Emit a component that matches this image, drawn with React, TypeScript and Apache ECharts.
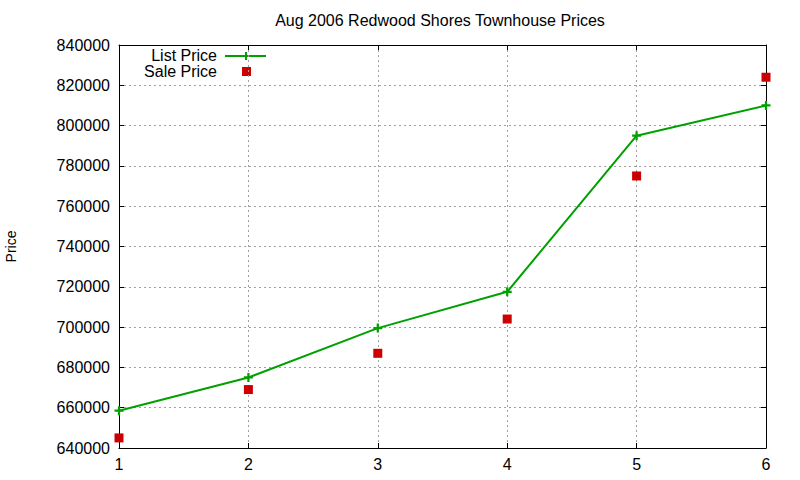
import { useEffect, useRef } from 'react';
import * as echarts from 'echarts';

const xValues = [1, 2, 3, 4, 5, 6];
const listPrice = [658500, 675000, 699500, 717500, 795000, 810000];
const salePrice = [645000, 669000, 687000, 704000, 775000, 824000];
const seriesNames = ['List Price', 'Sale Price'];
const yAxisName = 'Price';
const chartTitle = 'Aug 2006 Redwood Shores Townhouse Prices';

const FONT = "'Liberation Sans', Arial, sans-serif";
const GREEN = '#00a000';
const RED = '#cc0000';
const PLUS = 'path://M-1,-4 L1,-4 L1,-1 L4,-1 L4,1 L1,1 L1,4 L-1,4 L-1,1 L-4,1 L-4,-1 L-1,-1 Z';

export default function App() {
  const chartRef = useRef<HTMLDivElement>(null);

  useEffect(() => {
    if (!chartRef.current) return;
    const chart = echarts.init(chartRef.current, null, { renderer: 'svg' });

    const frameAxis = {
      type: 'value' as const,
      axisLine: { show: true, lineStyle: { color: '#000', width: 1 } },
      axisTick: { show: true, inside: true, length: 5, lineStyle: { color: '#000' } },
      splitLine: { show: false },
      axisLabel: { show: false },
    };

    const option: echarts.EChartsOption = {
      animation: false,
      backgroundColor: '#fff',
      textStyle: { fontFamily: FONT },
      grid: { left: 119, right: 34, top: 45, bottom: 32, outerBoundsMode: 'none' } as any,
      xAxis: [
        {
          ...frameAxis,
          position: 'bottom',
          min: 1,
          max: 6,
          interval: 1,
          axisLabel: { show: true, color: '#000', fontSize: 16, fontFamily: FONT, margin: 8 },
          splitLine: { show: true, lineStyle: { color: '#a0a0a0', type: [2, 3], width: 1 } },
        },
        { ...frameAxis, position: 'top', min: 1, max: 6, interval: 1 },
      ],
      yAxis: [
        {
          ...frameAxis,
          position: 'left',
          min: 640000,
          max: 840000,
          interval: 20000,
          name: yAxisName,
          nameLocation: 'middle',
          nameRotate: 90,
          nameGap: 101,
          nameTextStyle: { color: '#000', fontSize: 14, fontFamily: FONT },
          axisLabel: {
            show: true,
            color: '#000',
            fontSize: 16,
            fontFamily: FONT,
            margin: 9,
            formatter: (v: number) => String(v),
          },
          splitLine: { show: true, lineStyle: { color: '#a0a0a0', type: [2, 3], width: 1 } },
        },
        { ...frameAxis, position: 'right', min: 640000, max: 840000, interval: 20000 },
      ],
      series: [
        {
          name: seriesNames[0],
          type: 'line',
          xAxisIndex: 0,
          yAxisIndex: 0,
          data: xValues.map((x, i) => [x, listPrice[i]]),
          symbol: PLUS,
          symbolSize: 9,
          showAllSymbol: true,
          clip: false,
          lineStyle: { color: GREEN, width: 2 },
          itemStyle: { color: GREEN, opacity: 1 },
        },
        {
          name: seriesNames[1],
          type: 'scatter',
          xAxisIndex: 0,
          yAxisIndex: 0,
          data: xValues.map((x, i) => [x, salePrice[i]]),
          symbol: 'rect',
          symbolSize: 9,
          clip: false,
          itemStyle: { color: RED, opacity: 1 },
        },
      ],
      graphic: [
        {
          type: 'text',
          x: 440,
          y: 20,
          style: {
            text: chartTitle,
            fontSize: 16,
            fontFamily: FONT,
            fill: '#000',
            align: 'center',
            verticalAlign: 'middle',
          },
        },
        {
          type: 'text',
          x: 217,
          y: 55,
          style: { text: seriesNames[0], fontSize: 16, fontFamily: FONT, fill: '#000', align: 'right', verticalAlign: 'middle' },
        },
        {
          type: 'line',
          shape: { x1: 225, y1: 56, x2: 266, y2: 56 },
          style: { stroke: GREEN, lineWidth: 2 },
        },
        {
          type: 'line',
          shape: { x1: 246, y1: 52, x2: 246, y2: 60 },
          style: { stroke: GREEN, lineWidth: 2 },
        },
        {
          type: 'text',
          x: 217,
          y: 71,
          style: { text: seriesNames[1], fontSize: 16, fontFamily: FONT, fill: '#000', align: 'right', verticalAlign: 'middle' },
        },
        {
          type: 'rect',
          shape: { x: 242, y: 67, width: 9, height: 9 },
          style: { fill: RED },
        },
      ],
    };

    chart.setOption(option);
    return () => chart.dispose();
  }, []);

  return <div ref={chartRef} style={{ position: 'fixed', left: 0, top: 0, width: 800, height: 480 }} />;
}
